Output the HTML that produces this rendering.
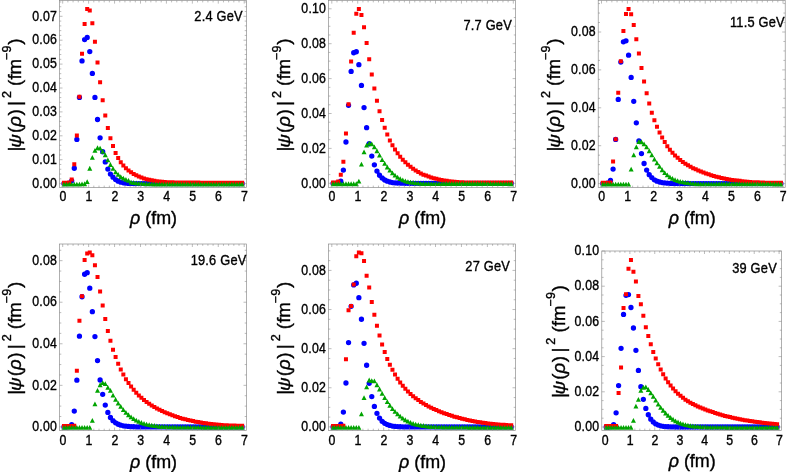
<!DOCTYPE html>
<html><head><meta charset="utf-8"><title>wavefunctions</title>
<style>
html,body{margin:0;padding:0;background:#fff;}
body{width:789px;height:472px;overflow:hidden;}
svg{display:block;will-change:transform;}
text{font-family:"Liberation Sans",sans-serif;fill:#000;stroke:#000;stroke-width:.38px;}
.t{font-size:14px;letter-spacing:.25px;}
.a{font-size:18.7px;}
.i{font-style:italic;}
.s{font-size:12.5px;}
</style></head><body>
<svg width="789" height="472" viewBox="0 0 789 472">
<rect width="789" height="472" fill="#fff"/>
<g><path d="M63.94 183.59h.01M66.53 183.59h.01M69.11 183.19h.01M71.69 180.8h.01M74.28 168.26h.01M76.86 139.39h.01M79.44 97.38h.01M82.02 60.92h.01M84.61 39.62h.01M87.19 37.43h.01M89.77 51.56h.01M92.35 73.46h.01M94.94 97.38h.01M97.52 119.48h.01M100.1 137.8h.01M102.68 151.73h.01M105.27 161.89h.01M107.85 169.05h.01M110.43 174.03h.01M113.01 177.22h.01M115.6 179.61h.01M118.18 181.2h.01M120.76 182.19h.01M123.35 182.79h.01M125.93 183.17h.01M128.51 183.39h.01M131.09 183.47h.01M133.68 183.53h.01M136.26 183.57h.01M138.84 183.59h.01M141.42 183.59h.01M144.01 183.59h.01M146.59 183.59h.01M149.17 183.59h.01M151.75 183.59h.01M154.34 183.59h.01M156.92 183.59h.01M159.5 183.59h.01M162.08 183.59h.01M164.67 183.59h.01M167.25 183.59h.01M169.83 183.6h.01M172.42 183.6h.01M175 183.6h.01M177.58 183.6h.01M180.16 183.6h.01M182.75 183.6h.01M185.33 183.6h.01M187.91 183.6h.01M190.49 183.6h.01M193.08 183.6h.01M195.66 183.6h.01M198.24 183.6h.01M200.82 183.6h.01M203.41 183.6h.01M205.99 183.6h.01M208.57 183.6h.01M211.15 183.6h.01M213.74 183.6h.01M216.32 183.6h.01M218.9 183.6h.01M221.48 183.6h.01M224.07 183.6h.01M226.65 183.6h.01M229.23 183.6h.01M231.82 183.6h.01M234.4 183.6h.01M236.98 183.6h.01M239.56 183.6h.01M242.15 183.6h.01" stroke="#0000ff" stroke-width="5.3" stroke-linecap="round" fill="none"/>
<path d="M61.94 180.7h4v4h-4zM64.53 180.7h4v4h-4zM67.11 180.59h4v4h-4zM69.69 177.61h4v4h-4zM72.28 162.28h4v4h-4zM74.86 133.41h4v4h-4zM77.44 94.79h4v4h-4zM80.02 51.75h4v4h-4zM82.61 21.89h4v4h-4zM85.19 6.96h4v4h-4zM87.77 8.55h4v4h-4zM90.35 21.29h4v4h-4zM92.94 39.81h4v4h-4zM95.52 60.51h4v4h-4zM98.1 80.22h4v4h-4zM100.68 98.37h4v4h-4zM103.27 113.5h4v4h-4zM105.85 126.04h4v4h-4zM108.43 136.2h4v4h-4zM111.01 144.1h4v4h-4zM113.6 150.91h4v4h-4zM116.18 156.09h4v4h-4zM118.76 160.15h4v4h-4zM121.35 163.41h4v4h-4zM123.93 166.15h4v4h-4zM126.51 168.49h4v4h-4zM129.09 170.32h4v4h-4zM131.68 172.04h4v4h-4zM134.26 173.37h4v4h-4zM136.84 174.59h4v4h-4zM139.42 175.5h4v4h-4zM142.01 176.41h4v4h-4zM144.59 177.23h4v4h-4zM147.17 177.84h4v4h-4zM149.75 178.35h4v4h-4zM152.34 178.75h4v4h-4zM154.92 179.16h4v4h-4zM157.5 179.46h4v4h-4zM160.08 179.74h4v4h-4zM162.67 179.97h4v4h-4zM165.25 180.15h4v4h-4zM167.83 180.28h4v4h-4zM170.42 180.36h4v4h-4zM173 180.43h4v4h-4zM175.58 180.48h4v4h-4zM178.16 180.51h4v4h-4zM180.75 180.54h4v4h-4zM183.33 180.57h4v4h-4zM185.91 180.58h4v4h-4zM188.49 180.59h4v4h-4zM191.08 180.6h4v4h-4zM193.66 180.61h4v4h-4zM196.24 180.62h4v4h-4zM198.82 180.63h4v4h-4zM201.41 180.64h4v4h-4zM203.99 180.65h4v4h-4zM206.57 180.65h4v4h-4zM209.15 180.66h4v4h-4zM211.74 180.67h4v4h-4zM214.32 180.67h4v4h-4zM216.9 180.68h4v4h-4zM219.48 180.68h4v4h-4zM222.07 180.69h4v4h-4zM224.65 180.69h4v4h-4zM227.23 180.69h4v4h-4zM229.82 180.7h4v4h-4zM232.4 180.7h4v4h-4zM234.98 180.7h4v4h-4zM237.56 180.7h4v4h-4zM240.15 180.7h4v4h-4z" fill="#ff0000"/>
<path d="M63.94 181.63l2.5 4.8h-5zM66.53 181.63l2.5 4.8h-5zM69.11 181.63l2.5 4.8h-5zM71.69 181.63l2.5 4.8h-5zM74.28 181.63l2.5 4.8h-5zM76.86 181.63l2.5 4.8h-5zM79.44 181.63l2.5 4.8h-5zM82.02 181.56l2.5 4.8h-5zM84.61 181.35l2.5 4.8h-5zM87.19 179.25l2.5 4.8h-5zM89.77 165.86l2.5 4.8h-5zM92.35 154.91l2.5 4.8h-5zM94.94 147.94l2.5 4.8h-5zM97.52 145.35l2.5 4.8h-5zM100.1 145.75l2.5 4.8h-5zM102.68 148.94l2.5 4.8h-5zM105.27 152.53l2.5 4.8h-5zM107.85 157.5l2.5 4.8h-5zM110.43 162.08l2.5 4.8h-5zM113.01 166.07l2.5 4.8h-5zM115.6 169.45l2.5 4.8h-5zM118.18 172.04l2.5 4.8h-5zM120.76 174.23l2.5 4.8h-5zM123.35 175.82l2.5 4.8h-5zM125.93 177.02l2.5 4.8h-5zM128.51 178.03l2.5 4.8h-5zM131.09 179.68l2.5 4.8h-5zM133.68 180.12l2.5 4.8h-5zM136.26 180.51l2.5 4.8h-5zM138.84 180.83l2.5 4.8h-5zM141.42 181.05l2.5 4.8h-5zM144.01 181.22l2.5 4.8h-5zM146.59 181.35l2.5 4.8h-5zM149.17 181.45l2.5 4.8h-5zM151.75 181.54l2.5 4.8h-5zM154.34 181.61l2.5 4.8h-5zM156.92 181.63l2.5 4.8h-5zM159.5 181.63l2.5 4.8h-5zM162.08 181.63l2.5 4.8h-5zM164.67 181.64l2.5 4.8h-5zM167.25 181.64l2.5 4.8h-5zM169.83 181.64l2.5 4.8h-5zM172.42 181.64l2.5 4.8h-5zM175 181.64l2.5 4.8h-5zM177.58 181.64l2.5 4.8h-5zM180.16 181.64l2.5 4.8h-5zM182.75 181.64l2.5 4.8h-5zM185.33 181.64l2.5 4.8h-5zM187.91 181.64l2.5 4.8h-5zM190.49 181.65l2.5 4.8h-5zM193.08 181.65l2.5 4.8h-5zM195.66 181.65l2.5 4.8h-5zM198.24 181.65l2.5 4.8h-5zM200.82 181.65l2.5 4.8h-5zM203.41 181.65l2.5 4.8h-5zM205.99 181.65l2.5 4.8h-5zM208.57 181.65l2.5 4.8h-5zM211.15 181.65l2.5 4.8h-5zM213.74 181.65l2.5 4.8h-5zM216.32 181.65l2.5 4.8h-5zM218.9 181.65l2.5 4.8h-5zM221.48 181.65l2.5 4.8h-5zM224.07 181.65l2.5 4.8h-5zM226.65 181.65l2.5 4.8h-5zM229.23 181.65l2.5 4.8h-5zM231.82 181.65l2.5 4.8h-5zM234.4 181.65l2.5 4.8h-5zM236.98 181.65l2.5 4.8h-5zM239.56 181.65l2.5 4.8h-5zM242.15 181.65l2.5 4.8h-5z" fill="#00a400"/>
<rect x="59.5" y="0.6" width="187" height="186.8" fill="none" stroke="#858585" stroke-width="0.65"/>
<path d="M62.7 187.4v-3M62.7 0.6v3M67.89 187.4v-1.8M67.89 0.6v1.8M73.07 187.4v-1.8M73.07 0.6v1.8M78.26 187.4v-1.8M78.26 0.6v1.8M83.44 187.4v-1.8M83.44 0.6v1.8M88.63 187.4v-3M88.63 0.6v3M93.82 187.4v-1.8M93.82 0.6v1.8M99 187.4v-1.8M99 0.6v1.8M104.19 187.4v-1.8M104.19 0.6v1.8M109.37 187.4v-1.8M109.37 0.6v1.8M114.56 187.4v-3M114.56 0.6v3M119.75 187.4v-1.8M119.75 0.6v1.8M124.93 187.4v-1.8M124.93 0.6v1.8M130.12 187.4v-1.8M130.12 0.6v1.8M135.3 187.4v-1.8M135.3 0.6v1.8M140.49 187.4v-3M140.49 0.6v3M145.68 187.4v-1.8M145.68 0.6v1.8M150.86 187.4v-1.8M150.86 0.6v1.8M156.05 187.4v-1.8M156.05 0.6v1.8M161.23 187.4v-1.8M161.23 0.6v1.8M166.42 187.4v-3M166.42 0.6v3M171.61 187.4v-1.8M171.61 0.6v1.8M176.79 187.4v-1.8M176.79 0.6v1.8M181.98 187.4v-1.8M181.98 0.6v1.8M187.16 187.4v-1.8M187.16 0.6v1.8M192.35 187.4v-3M192.35 0.6v3M197.54 187.4v-1.8M197.54 0.6v1.8M202.72 187.4v-1.8M202.72 0.6v1.8M207.91 187.4v-1.8M207.91 0.6v1.8M213.09 187.4v-1.8M213.09 0.6v1.8M218.28 187.4v-3M218.28 0.6v3M223.47 187.4v-1.8M223.47 0.6v1.8M228.65 187.4v-1.8M228.65 0.6v1.8M233.84 187.4v-1.8M233.84 0.6v1.8M239.02 187.4v-1.8M239.02 0.6v1.8M244.21 187.4v-3M244.21 0.6v3M59.5 183.6h3M246.5 183.6h-3M59.5 178.82h1.8M246.5 178.82h-1.8M59.5 174.04h1.8M246.5 174.04h-1.8M59.5 169.26h1.8M246.5 169.26h-1.8M59.5 164.48h1.8M246.5 164.48h-1.8M59.5 159.7h3M246.5 159.7h-3M59.5 154.92h1.8M246.5 154.92h-1.8M59.5 150.14h1.8M246.5 150.14h-1.8M59.5 145.36h1.8M246.5 145.36h-1.8M59.5 140.58h1.8M246.5 140.58h-1.8M59.5 135.8h3M246.5 135.8h-3M59.5 131.02h1.8M246.5 131.02h-1.8M59.5 126.24h1.8M246.5 126.24h-1.8M59.5 121.46h1.8M246.5 121.46h-1.8M59.5 116.68h1.8M246.5 116.68h-1.8M59.5 111.9h3M246.5 111.9h-3M59.5 107.12h1.8M246.5 107.12h-1.8M59.5 102.34h1.8M246.5 102.34h-1.8M59.5 97.56h1.8M246.5 97.56h-1.8M59.5 92.78h1.8M246.5 92.78h-1.8M59.5 88h3M246.5 88h-3M59.5 83.22h1.8M246.5 83.22h-1.8M59.5 78.44h1.8M246.5 78.44h-1.8M59.5 73.66h1.8M246.5 73.66h-1.8M59.5 68.88h1.8M246.5 68.88h-1.8M59.5 64.1h3M246.5 64.1h-3M59.5 59.32h1.8M246.5 59.32h-1.8M59.5 54.54h1.8M246.5 54.54h-1.8M59.5 49.76h1.8M246.5 49.76h-1.8M59.5 44.98h1.8M246.5 44.98h-1.8M59.5 40.2h3M246.5 40.2h-3M59.5 35.42h1.8M246.5 35.42h-1.8M59.5 30.64h1.8M246.5 30.64h-1.8M59.5 25.86h1.8M246.5 25.86h-1.8M59.5 21.08h1.8M246.5 21.08h-1.8M59.5 16.3h3M246.5 16.3h-3M59.5 11.52h1.8M246.5 11.52h-1.8M59.5 6.74h1.8M246.5 6.74h-1.8M59.5 1.96h1.8M246.5 1.96h-1.8" stroke="#858585" stroke-width="0.55" fill="none"/>
<text transform="translate(63.05 201) scale(0.88 1)" text-anchor="middle" class="t">0</text>
<text transform="translate(88.98 201) scale(0.88 1)" text-anchor="middle" class="t">1</text>
<text transform="translate(114.91 201) scale(0.88 1)" text-anchor="middle" class="t">2</text>
<text transform="translate(140.84 201) scale(0.88 1)" text-anchor="middle" class="t">3</text>
<text transform="translate(166.77 201) scale(0.88 1)" text-anchor="middle" class="t">4</text>
<text transform="translate(192.7 201) scale(0.88 1)" text-anchor="middle" class="t">5</text>
<text transform="translate(218.63 201) scale(0.88 1)" text-anchor="middle" class="t">6</text>
<text transform="translate(244.56 201) scale(0.88 1)" text-anchor="middle" class="t">7</text>
<text transform="translate(57.1 187.85) scale(0.88 1)" text-anchor="end" class="t">0.00</text>
<text transform="translate(57.1 163.95) scale(0.88 1)" text-anchor="end" class="t">0.01</text>
<text transform="translate(57.1 140.05) scale(0.88 1)" text-anchor="end" class="t">0.02</text>
<text transform="translate(57.1 116.15) scale(0.88 1)" text-anchor="end" class="t">0.03</text>
<text transform="translate(57.1 92.25) scale(0.88 1)" text-anchor="end" class="t">0.04</text>
<text transform="translate(57.1 68.35) scale(0.88 1)" text-anchor="end" class="t">0.05</text>
<text transform="translate(57.1 44.45) scale(0.88 1)" text-anchor="end" class="t">0.06</text>
<text transform="translate(57.1 20.55) scale(0.88 1)" text-anchor="end" class="t">0.07</text>
<text transform="translate(218.58 20.76) scale(0.915 1)" text-anchor="middle" class="t">2.4 GeV</text>
<text transform="translate(153.5 224.4) scale(.96 1)" text-anchor="middle" class="a"><tspan class="i">ρ</tspan> (fm)</text>
<g transform="translate(21.3 94) rotate(-90)" text-anchor="middle"><text x="-55" y="0" class="a">|</text><text transform="translate(-47 0) scale(1 .87)" class="a i">ψ</text><text x="-35.9" y="0" class="a">(</text><text x="-27.4" y="0" class="a i">ρ</text><text x="-18.4" y="0" class="a">)</text><text x="-9.5" y="0" class="a">|</text><text x="-0.6" y="-9.9" class="s">2</text><text x="11.2" y="0" class="a">(</text><text x="17" y="0" class="a">f</text><text x="27.4" y="0" class="a">m</text><text x="37.5" y="-9.9" class="s">−</text><text x="45.1" y="-9.9" class="s">9</text><text x="52.3" y="0" class="a">)</text></g></g>
<g><path d="M333.04 183.3h.01M335.63 183.3h.01M338.21 182.99h.01M340.79 181.2h.01M343.38 170.05h.01M345.96 141.98h.01M348.54 105.35h.01M351.12 71.47h.01M353.71 52.76h.01M356.29 51.76h.01M358.87 64.7h.01M361.45 85.41h.01M364.04 107.54h.01M366.62 127.65h.01M369.2 143.77h.01M371.78 156.11h.01M374.37 164.87h.01M376.95 171.05h.01M379.53 175.23h.01M382.11 178.01h.01M384.7 180h.01M387.28 181.2h.01M389.86 182h.01M392.45 182.59h.01M395.03 182.84h.01M397.61 182.99h.01M400.19 183.1h.01M402.78 183.2h.01M405.36 183.26h.01M407.94 183.29h.01M410.52 183.29h.01M413.11 183.29h.01M415.69 183.29h.01M418.27 183.29h.01M420.85 183.29h.01M423.44 183.29h.01M426.02 183.29h.01M428.6 183.29h.01M431.18 183.29h.01M433.77 183.3h.01M436.35 183.3h.01M438.93 183.3h.01M441.52 183.3h.01M444.1 183.3h.01M446.68 183.3h.01M449.26 183.3h.01M451.85 183.3h.01M454.43 183.3h.01M457.01 183.3h.01M459.59 183.3h.01M462.18 183.3h.01M464.76 183.3h.01M467.34 183.3h.01M469.92 183.3h.01M472.51 183.3h.01M475.09 183.3h.01M477.67 183.3h.01M480.25 183.3h.01M482.84 183.3h.01M485.42 183.3h.01M488 183.3h.01M490.58 183.3h.01M493.17 183.3h.01M495.75 183.3h.01M498.33 183.3h.01M500.92 183.3h.01M503.5 183.3h.01M506.08 183.3h.01M508.66 183.3h.01M511.25 183.3h.01" stroke="#0000ff" stroke-width="5.3" stroke-linecap="round" fill="none"/>
<path d="M331.04 180.4h4v4h-4zM333.63 180.4h4v4h-4zM336.21 179.6h4v4h-4zM338.79 172.83h4v4h-4zM341.38 159.69h4v4h-4zM343.96 131.42h4v4h-4zM346.54 102.35h4v4h-4zM349.12 59.52h4v4h-4zM351.71 30.85h4v4h-4zM354.29 11.74h4v4h-4zM356.87 6.96h4v4h-4zM359.45 12.93h4v4h-4zM362.04 25.27h4v4h-4zM364.62 41h4v4h-4zM367.2 57.13h4v4h-4zM369.78 72.46h4v4h-4zM372.37 86.39h4v4h-4zM374.95 98.77h4v4h-4zM377.53 109.32h4v4h-4zM380.11 118.08h4v4h-4zM382.7 125.84h4v4h-4zM385.28 132.61h4v4h-4zM387.86 138.39h4v4h-4zM390.45 143.16h4v4h-4zM393.03 147.54h4v4h-4zM395.61 151.33h4v4h-4zM398.19 154.71h4v4h-4zM400.78 157.7h4v4h-4zM403.36 160.29h4v4h-4zM405.94 162.67h4v4h-4zM408.52 164.86h4v4h-4zM411.11 166.86h4v4h-4zM413.69 168.45h4v4h-4zM416.27 170.04h4v4h-4zM418.85 171.43h4v4h-4zM421.44 172.63h4v4h-4zM424.02 173.62h4v4h-4zM426.6 174.62h4v4h-4zM429.18 175.42h4v4h-4zM431.77 176.21h4v4h-4zM434.35 176.81h4v4h-4zM436.93 177.41h4v4h-4zM439.52 178h4v4h-4zM442.1 178.4h4v4h-4zM444.68 178.8h4v4h-4zM447.26 179.2h4v4h-4zM449.85 179.6h4v4h-4zM452.43 179.82h4v4h-4zM455.01 180.01h4v4h-4zM457.59 180.16h4v4h-4zM460.18 180.29h4v4h-4zM462.76 180.4h4v4h-4zM465.34 180.4h4v4h-4zM467.92 180.4h4v4h-4zM470.51 180.4h4v4h-4zM473.09 180.4h4v4h-4zM475.67 180.4h4v4h-4zM478.25 180.4h4v4h-4zM480.84 180.4h4v4h-4zM483.42 180.4h4v4h-4zM486 180.4h4v4h-4zM488.58 180.4h4v4h-4zM491.17 180.4h4v4h-4zM493.75 180.4h4v4h-4zM496.33 180.4h4v4h-4zM498.92 180.4h4v4h-4zM501.5 180.4h4v4h-4zM504.08 180.4h4v4h-4zM506.66 180.4h4v4h-4zM509.25 180.4h4v4h-4z" fill="#ff0000"/>
<path d="M333.04 181.35l2.5 4.8h-5zM335.63 181.35l2.5 4.8h-5zM338.21 181.35l2.5 4.8h-5zM340.79 181.35l2.5 4.8h-5zM343.38 181.35l2.5 4.8h-5zM345.96 181.35l2.5 4.8h-5zM348.54 181.35l2.5 4.8h-5zM351.12 181.35l2.5 4.8h-5zM353.71 181.35l2.5 4.8h-5zM356.29 181.35l2.5 4.8h-5zM358.87 178.64l2.5 4.8h-5zM361.45 161.65l2.5 4.8h-5zM364.04 149.42l2.5 4.8h-5zM366.62 142.66l2.5 4.8h-5zM369.2 140.64l2.5 4.8h-5zM371.78 141.47l2.5 4.8h-5zM374.37 144.44l2.5 4.8h-5zM376.95 148.35l2.5 4.8h-5zM379.53 152.75l2.5 4.8h-5zM382.11 157.14l2.5 4.8h-5zM384.7 161.05l2.5 4.8h-5zM387.28 164.61l2.5 4.8h-5zM389.86 167.82l2.5 4.8h-5zM392.45 170.55l2.5 4.8h-5zM395.03 172.8l2.5 4.8h-5zM397.61 174.7l2.5 4.8h-5zM400.19 176.25l2.5 4.8h-5zM402.78 177.44l2.5 4.8h-5zM405.36 178.4l2.5 4.8h-5zM407.94 179.13l2.5 4.8h-5zM410.52 179.64l2.5 4.8h-5zM413.11 180.04l2.5 4.8h-5zM415.69 180.47l2.5 4.8h-5zM418.27 180.75l2.5 4.8h-5zM420.85 180.95l2.5 4.8h-5zM423.44 181.11l2.5 4.8h-5zM426.02 181.25l2.5 4.8h-5zM428.6 181.31l2.5 4.8h-5zM431.18 181.3l2.5 4.8h-5zM433.77 181.27l2.5 4.8h-5zM436.35 181.23l2.5 4.8h-5zM438.93 181.18l2.5 4.8h-5zM441.52 181.14l2.5 4.8h-5zM444.1 181.1l2.5 4.8h-5zM446.68 181.08l2.5 4.8h-5zM449.26 181.08l2.5 4.8h-5zM451.85 181.08l2.5 4.8h-5zM454.43 181.08l2.5 4.8h-5zM457.01 181.08l2.5 4.8h-5zM459.59 181.08l2.5 4.8h-5zM462.18 181.08l2.5 4.8h-5zM464.76 181.08l2.5 4.8h-5zM467.34 181.08l2.5 4.8h-5zM469.92 181.09l2.5 4.8h-5zM472.51 181.09l2.5 4.8h-5zM475.09 181.1l2.5 4.8h-5zM477.67 181.1l2.5 4.8h-5zM480.25 181.11l2.5 4.8h-5zM482.84 181.12l2.5 4.8h-5zM485.42 181.13l2.5 4.8h-5zM488 181.14l2.5 4.8h-5zM490.58 181.16l2.5 4.8h-5zM493.17 181.17l2.5 4.8h-5zM495.75 181.19l2.5 4.8h-5zM498.33 181.21l2.5 4.8h-5zM500.92 181.23l2.5 4.8h-5zM503.5 181.26l2.5 4.8h-5zM506.08 181.29l2.5 4.8h-5zM508.66 181.32l2.5 4.8h-5zM511.25 181.35l2.5 4.8h-5z" fill="#00a400"/>
<rect x="328.6" y="0.6" width="187" height="186.8" fill="none" stroke="#858585" stroke-width="0.65"/>
<path d="M331.8 187.4v-3M331.8 0.6v3M336.99 187.4v-1.8M336.99 0.6v1.8M342.17 187.4v-1.8M342.17 0.6v1.8M347.36 187.4v-1.8M347.36 0.6v1.8M352.54 187.4v-1.8M352.54 0.6v1.8M357.73 187.4v-3M357.73 0.6v3M362.92 187.4v-1.8M362.92 0.6v1.8M368.1 187.4v-1.8M368.1 0.6v1.8M373.29 187.4v-1.8M373.29 0.6v1.8M378.47 187.4v-1.8M378.47 0.6v1.8M383.66 187.4v-3M383.66 0.6v3M388.85 187.4v-1.8M388.85 0.6v1.8M394.03 187.4v-1.8M394.03 0.6v1.8M399.22 187.4v-1.8M399.22 0.6v1.8M404.4 187.4v-1.8M404.4 0.6v1.8M409.59 187.4v-3M409.59 0.6v3M414.78 187.4v-1.8M414.78 0.6v1.8M419.96 187.4v-1.8M419.96 0.6v1.8M425.15 187.4v-1.8M425.15 0.6v1.8M430.33 187.4v-1.8M430.33 0.6v1.8M435.52 187.4v-3M435.52 0.6v3M440.71 187.4v-1.8M440.71 0.6v1.8M445.89 187.4v-1.8M445.89 0.6v1.8M451.08 187.4v-1.8M451.08 0.6v1.8M456.26 187.4v-1.8M456.26 0.6v1.8M461.45 187.4v-3M461.45 0.6v3M466.64 187.4v-1.8M466.64 0.6v1.8M471.82 187.4v-1.8M471.82 0.6v1.8M477.01 187.4v-1.8M477.01 0.6v1.8M482.19 187.4v-1.8M482.19 0.6v1.8M487.38 187.4v-3M487.38 0.6v3M492.57 187.4v-1.8M492.57 0.6v1.8M497.75 187.4v-1.8M497.75 0.6v1.8M502.94 187.4v-1.8M502.94 0.6v1.8M508.12 187.4v-1.8M508.12 0.6v1.8M513.31 187.4v-3M513.31 0.6v3M328.6 183.3h3M515.6 183.3h-3M328.6 174.58h1.8M515.6 174.58h-1.8M328.6 165.85h1.8M515.6 165.85h-1.8M328.6 157.12h1.8M515.6 157.12h-1.8M328.6 148.4h3M515.6 148.4h-3M328.6 139.68h1.8M515.6 139.68h-1.8M328.6 130.95h1.8M515.6 130.95h-1.8M328.6 122.23h1.8M515.6 122.23h-1.8M328.6 113.5h3M515.6 113.5h-3M328.6 104.78h1.8M515.6 104.78h-1.8M328.6 96.05h1.8M515.6 96.05h-1.8M328.6 87.33h1.8M515.6 87.33h-1.8M328.6 78.6h3M515.6 78.6h-3M328.6 69.88h1.8M515.6 69.88h-1.8M328.6 61.15h1.8M515.6 61.15h-1.8M328.6 52.43h1.8M515.6 52.43h-1.8M328.6 43.7h3M515.6 43.7h-3M328.6 34.98h1.8M515.6 34.98h-1.8M328.6 26.25h1.8M515.6 26.25h-1.8M328.6 17.53h1.8M515.6 17.53h-1.8M328.6 8.8h3M515.6 8.8h-3" stroke="#858585" stroke-width="0.55" fill="none"/>
<text transform="translate(332.15 201) scale(0.88 1)" text-anchor="middle" class="t">0</text>
<text transform="translate(358.08 201) scale(0.88 1)" text-anchor="middle" class="t">1</text>
<text transform="translate(384.01 201) scale(0.88 1)" text-anchor="middle" class="t">2</text>
<text transform="translate(409.94 201) scale(0.88 1)" text-anchor="middle" class="t">3</text>
<text transform="translate(435.87 201) scale(0.88 1)" text-anchor="middle" class="t">4</text>
<text transform="translate(461.8 201) scale(0.88 1)" text-anchor="middle" class="t">5</text>
<text transform="translate(487.73 201) scale(0.88 1)" text-anchor="middle" class="t">6</text>
<text transform="translate(513.66 201) scale(0.88 1)" text-anchor="middle" class="t">7</text>
<text transform="translate(326.2 187.55) scale(0.88 1)" text-anchor="end" class="t">0.00</text>
<text transform="translate(326.2 152.65) scale(0.88 1)" text-anchor="end" class="t">0.02</text>
<text transform="translate(326.2 117.75) scale(0.88 1)" text-anchor="end" class="t">0.04</text>
<text transform="translate(326.2 82.85) scale(0.88 1)" text-anchor="end" class="t">0.06</text>
<text transform="translate(326.2 47.95) scale(0.88 1)" text-anchor="end" class="t">0.08</text>
<text transform="translate(326.2 13.05) scale(0.88 1)" text-anchor="end" class="t">0.10</text>
<text transform="translate(487.68 29.9) scale(0.915 1)" text-anchor="middle" class="t">7.7 GeV</text>
<text transform="translate(422.6 224.4) scale(.96 1)" text-anchor="middle" class="a"><tspan class="i">ρ</tspan> (fm)</text>
<g transform="translate(290.4 94) rotate(-90)" text-anchor="middle"><text x="-55" y="0" class="a">|</text><text transform="translate(-47 0) scale(1 .87)" class="a i">ψ</text><text x="-35.9" y="0" class="a">(</text><text x="-27.4" y="0" class="a i">ρ</text><text x="-18.4" y="0" class="a">)</text><text x="-9.5" y="0" class="a">|</text><text x="-0.6" y="-9.9" class="s">2</text><text x="11.2" y="0" class="a">(</text><text x="17" y="0" class="a">f</text><text x="27.4" y="0" class="a">m</text><text x="37.5" y="-9.9" class="s">−</text><text x="45.1" y="-9.9" class="s">9</text><text x="52.3" y="0" class="a">)</text></g></g>
<g><path d="M602.74 183.59h.01M605.33 183.59h.01M607.91 182.99h.01M610.49 180.4h.01M613.08 169.05h.01M615.66 139.39h.01M618.24 99.38h.01M620.82 62.11h.01M623.41 41.81h.01M625.99 40.81h.01M628.57 55.15h.01M631.15 77.44h.01M633.74 101.37h.01M636.32 122.87h.01M638.9 140.98h.01M641.48 153.53h.01M644.07 163.48h.01M646.65 170.05h.01M649.23 174.63h.01M651.81 177.62h.01M654.4 179.81h.01M656.98 181.2h.01M659.56 182h.01M662.15 182.59h.01M664.73 182.96h.01M667.31 183.19h.01M669.89 183.33h.01M672.48 183.44h.01M675.06 183.49h.01M677.64 183.5h.01M680.22 183.5h.01M682.81 183.51h.01M685.39 183.52h.01M687.97 183.52h.01M690.55 183.53h.01M693.14 183.53h.01M695.72 183.54h.01M698.3 183.54h.01M700.88 183.55h.01M703.47 183.55h.01M706.05 183.56h.01M708.63 183.56h.01M711.22 183.56h.01M713.8 183.57h.01M716.38 183.57h.01M718.96 183.57h.01M721.55 183.58h.01M724.13 183.58h.01M726.71 183.58h.01M729.29 183.58h.01M731.88 183.58h.01M734.46 183.59h.01M737.04 183.59h.01M739.62 183.59h.01M742.21 183.59h.01M744.79 183.59h.01M747.37 183.59h.01M749.95 183.6h.01M752.54 183.6h.01M755.12 183.6h.01M757.7 183.6h.01M760.28 183.6h.01M762.87 183.6h.01M765.45 183.6h.01M768.03 183.6h.01M770.62 183.6h.01M773.2 183.6h.01M775.78 183.6h.01M778.36 183.6h.01M780.95 183.6h.01" stroke="#0000ff" stroke-width="5.3" stroke-linecap="round" fill="none"/>
<path d="M600.74 180.7h4v4h-4zM603.33 180.7h4v4h-4zM605.91 180.7h4v4h-4zM608.49 180.59h4v4h-4zM611.08 159.49h4v4h-4zM613.66 137.19h4v4h-4zM616.24 90.77h4v4h-4zM618.82 59.32h4v4h-4zM621.41 29.06h4v4h-4zM623.99 11.94h4v4h-4zM626.57 6.96h4v4h-4zM629.15 12.33h4v4h-4zM631.74 22.89h4v4h-4zM634.32 37.22h4v4h-4zM636.9 51.55h4v4h-4zM639.48 66.09h4v4h-4zM642.07 79.62h4v4h-4zM644.65 91.17h4v4h-4zM647.23 101.56h4v4h-4zM649.81 110.71h4v4h-4zM652.4 118.28h4v4h-4zM654.98 124.85h4v4h-4zM657.56 130.62h4v4h-4zM660.15 135.6h4v4h-4zM662.73 139.98h4v4h-4zM665.31 144.16h4v4h-4zM667.89 147.74h4v4h-4zM670.48 150.78h4v4h-4zM673.06 153.44h4v4h-4zM675.64 155.82h4v4h-4zM678.22 157.98h4v4h-4zM680.81 159.92h4v4h-4zM683.39 161.69h4v4h-4zM685.97 163.29h4v4h-4zM688.55 164.77h4v4h-4zM691.14 166.13h4v4h-4zM693.72 167.37h4v4h-4zM696.3 168.51h4v4h-4zM698.88 169.56h4v4h-4zM701.47 170.55h4v4h-4zM704.05 171.49h4v4h-4zM706.63 172.37h4v4h-4zM709.22 173.19h4v4h-4zM711.8 173.95h4v4h-4zM714.38 174.66h4v4h-4zM716.96 175.31h4v4h-4zM719.55 175.93h4v4h-4zM722.13 176.51h4v4h-4zM724.71 177.03h4v4h-4zM727.29 177.48h4v4h-4zM729.88 177.88h4v4h-4zM732.46 178.24h4v4h-4zM735.04 178.57h4v4h-4zM737.62 178.87h4v4h-4zM740.21 179.18h4v4h-4zM742.79 179.47h4v4h-4zM745.37 179.74h4v4h-4zM747.95 179.97h4v4h-4zM750.54 180.13h4v4h-4zM753.12 180.26h4v4h-4zM755.7 180.37h4v4h-4zM758.28 180.46h4v4h-4zM760.87 180.55h4v4h-4zM763.45 180.64h4v4h-4zM766.03 180.7h4v4h-4zM768.62 180.7h4v4h-4zM771.2 180.7h4v4h-4zM773.78 180.7h4v4h-4zM776.36 180.7h4v4h-4zM778.95 180.7h4v4h-4z" fill="#ff0000"/>
<path d="M602.74 181.65l2.5 4.8h-5zM605.33 181.65l2.5 4.8h-5zM607.91 181.65l2.5 4.8h-5zM610.49 181.65l2.5 4.8h-5zM613.08 181.65l2.5 4.8h-5zM615.66 181.65l2.5 4.8h-5zM618.24 181.65l2.5 4.8h-5zM620.82 181.65l2.5 4.8h-5zM623.41 181.65l2.5 4.8h-5zM625.99 181.65l2.5 4.8h-5zM628.57 181.65l2.5 4.8h-5zM631.15 166.75l2.5 4.8h-5zM633.74 152.51l2.5 4.8h-5zM636.32 144.44l2.5 4.8h-5zM638.9 139.1l2.5 4.8h-5zM641.48 139.33l2.5 4.8h-5zM644.07 141.47l2.5 4.8h-5zM646.65 144.44l2.5 4.8h-5zM649.23 148.35l2.5 4.8h-5zM651.81 152.39l2.5 4.8h-5zM654.4 156.66l2.5 4.8h-5zM656.98 160.46l2.5 4.8h-5zM659.56 164.02l2.5 4.8h-5zM662.15 167.34l2.5 4.8h-5zM664.73 170.19l2.5 4.8h-5zM667.31 172.57l2.5 4.8h-5zM669.89 174.47l2.5 4.8h-5zM672.48 176.01l2.5 4.8h-5zM675.06 177.2l2.5 4.8h-5zM677.64 178.15l2.5 4.8h-5zM680.22 178.88l2.5 4.8h-5zM682.81 179.5l2.5 4.8h-5zM685.39 180.01l2.5 4.8h-5zM687.97 180.42l2.5 4.8h-5zM690.55 180.7l2.5 4.8h-5zM693.14 180.95l2.5 4.8h-5zM695.72 181.17l2.5 4.8h-5zM698.3 181.39l2.5 4.8h-5zM700.88 181.51l2.5 4.8h-5zM703.47 181.5l2.5 4.8h-5zM706.05 181.48l2.5 4.8h-5zM708.63 181.45l2.5 4.8h-5zM711.22 181.41l2.5 4.8h-5zM713.8 181.38l2.5 4.8h-5zM716.38 181.36l2.5 4.8h-5zM718.96 181.36l2.5 4.8h-5zM721.55 181.36l2.5 4.8h-5zM724.13 181.36l2.5 4.8h-5zM726.71 181.36l2.5 4.8h-5zM729.29 181.36l2.5 4.8h-5zM731.88 181.36l2.5 4.8h-5zM734.46 181.37l2.5 4.8h-5zM737.04 181.37l2.5 4.8h-5zM739.62 181.37l2.5 4.8h-5zM742.21 181.38l2.5 4.8h-5zM744.79 181.38l2.5 4.8h-5zM747.37 181.39l2.5 4.8h-5zM749.95 181.4l2.5 4.8h-5zM752.54 181.41l2.5 4.8h-5zM755.12 181.42l2.5 4.8h-5zM757.7 181.43l2.5 4.8h-5zM760.28 181.45l2.5 4.8h-5zM762.87 181.46l2.5 4.8h-5zM765.45 181.48l2.5 4.8h-5zM768.03 181.5l2.5 4.8h-5zM770.62 181.53l2.5 4.8h-5zM773.2 181.55l2.5 4.8h-5zM775.78 181.58l2.5 4.8h-5zM778.36 181.61l2.5 4.8h-5zM780.95 181.65l2.5 4.8h-5z" fill="#00a400"/>
<rect x="598.2" y="0.6" width="187" height="186.8" fill="none" stroke="#858585" stroke-width="0.65"/>
<path d="M601.5 187.4v-3M601.5 0.6v3M606.69 187.4v-1.8M606.69 0.6v1.8M611.87 187.4v-1.8M611.87 0.6v1.8M617.06 187.4v-1.8M617.06 0.6v1.8M622.24 187.4v-1.8M622.24 0.6v1.8M627.43 187.4v-3M627.43 0.6v3M632.62 187.4v-1.8M632.62 0.6v1.8M637.8 187.4v-1.8M637.8 0.6v1.8M642.99 187.4v-1.8M642.99 0.6v1.8M648.17 187.4v-1.8M648.17 0.6v1.8M653.36 187.4v-3M653.36 0.6v3M658.55 187.4v-1.8M658.55 0.6v1.8M663.73 187.4v-1.8M663.73 0.6v1.8M668.92 187.4v-1.8M668.92 0.6v1.8M674.1 187.4v-1.8M674.1 0.6v1.8M679.29 187.4v-3M679.29 0.6v3M684.48 187.4v-1.8M684.48 0.6v1.8M689.66 187.4v-1.8M689.66 0.6v1.8M694.85 187.4v-1.8M694.85 0.6v1.8M700.03 187.4v-1.8M700.03 0.6v1.8M705.22 187.4v-3M705.22 0.6v3M710.41 187.4v-1.8M710.41 0.6v1.8M715.59 187.4v-1.8M715.59 0.6v1.8M720.78 187.4v-1.8M720.78 0.6v1.8M725.96 187.4v-1.8M725.96 0.6v1.8M731.15 187.4v-3M731.15 0.6v3M736.34 187.4v-1.8M736.34 0.6v1.8M741.52 187.4v-1.8M741.52 0.6v1.8M746.71 187.4v-1.8M746.71 0.6v1.8M751.89 187.4v-1.8M751.89 0.6v1.8M757.08 187.4v-3M757.08 0.6v3M762.27 187.4v-1.8M762.27 0.6v1.8M767.45 187.4v-1.8M767.45 0.6v1.8M772.64 187.4v-1.8M772.64 0.6v1.8M777.82 187.4v-1.8M777.82 0.6v1.8M783.01 187.4v-3M783.01 0.6v3M598.2 183.6h3M785.2 183.6h-3M598.2 174.12h1.8M785.2 174.12h-1.8M598.2 164.65h1.8M785.2 164.65h-1.8M598.2 155.18h1.8M785.2 155.18h-1.8M598.2 145.7h3M785.2 145.7h-3M598.2 136.22h1.8M785.2 136.22h-1.8M598.2 126.75h1.8M785.2 126.75h-1.8M598.2 117.27h1.8M785.2 117.27h-1.8M598.2 107.8h3M785.2 107.8h-3M598.2 98.33h1.8M785.2 98.33h-1.8M598.2 88.85h1.8M785.2 88.85h-1.8M598.2 79.38h1.8M785.2 79.38h-1.8M598.2 69.9h3M785.2 69.9h-3M598.2 60.42h1.8M785.2 60.42h-1.8M598.2 50.95h1.8M785.2 50.95h-1.8M598.2 41.47h1.8M785.2 41.47h-1.8M598.2 32h3M785.2 32h-3M598.2 22.53h1.8M785.2 22.53h-1.8M598.2 13.05h1.8M785.2 13.05h-1.8M598.2 3.57h1.8M785.2 3.57h-1.8" stroke="#858585" stroke-width="0.55" fill="none"/>
<text transform="translate(601.85 201) scale(0.88 1)" text-anchor="middle" class="t">0</text>
<text transform="translate(627.78 201) scale(0.88 1)" text-anchor="middle" class="t">1</text>
<text transform="translate(653.71 201) scale(0.88 1)" text-anchor="middle" class="t">2</text>
<text transform="translate(679.64 201) scale(0.88 1)" text-anchor="middle" class="t">3</text>
<text transform="translate(705.57 201) scale(0.88 1)" text-anchor="middle" class="t">4</text>
<text transform="translate(731.5 201) scale(0.88 1)" text-anchor="middle" class="t">5</text>
<text transform="translate(757.43 201) scale(0.88 1)" text-anchor="middle" class="t">6</text>
<text transform="translate(783.36 201) scale(0.88 1)" text-anchor="middle" class="t">7</text>
<text transform="translate(595.8 187.85) scale(0.88 1)" text-anchor="end" class="t">0.00</text>
<text transform="translate(595.8 149.95) scale(0.88 1)" text-anchor="end" class="t">0.02</text>
<text transform="translate(595.8 112.05) scale(0.88 1)" text-anchor="end" class="t">0.04</text>
<text transform="translate(595.8 74.15) scale(0.88 1)" text-anchor="end" class="t">0.06</text>
<text transform="translate(595.8 36.25) scale(0.88 1)" text-anchor="end" class="t">0.08</text>
<text transform="translate(757.38 27.23) scale(0.915 1)" text-anchor="middle" class="t">11.5 GeV</text>
<text transform="translate(692.2 224.4) scale(.96 1)" text-anchor="middle" class="a"><tspan class="i">ρ</tspan> (fm)</text>
<g transform="translate(560 94) rotate(-90)" text-anchor="middle"><text x="-55" y="0" class="a">|</text><text transform="translate(-47 0) scale(1 .87)" class="a i">ψ</text><text x="-35.9" y="0" class="a">(</text><text x="-27.4" y="0" class="a i">ρ</text><text x="-18.4" y="0" class="a">)</text><text x="-9.5" y="0" class="a">|</text><text x="-0.6" y="-9.9" class="s">2</text><text x="11.2" y="0" class="a">(</text><text x="17" y="0" class="a">f</text><text x="27.4" y="0" class="a">m</text><text x="37.5" y="-9.9" class="s">−</text><text x="45.1" y="-9.9" class="s">9</text><text x="52.3" y="0" class="a">)</text></g></g>
<g><path d="M63.94 426.9h.01M66.53 426.9h.01M69.11 426.59h.01M71.69 424.6h.01M74.28 411.06h.01M76.86 380.2h.01M79.44 336.17h.01M82.02 296.75h.01M84.61 274.26h.01M87.19 272.66h.01M89.77 288.19h.01M92.35 311.68h.01M94.94 336.57h.01M97.52 360.6h.01M100.1 379.99h.01M102.68 394.35h.01M105.27 405.03h.01M107.85 412.39h.01M110.43 417.49h.01M113.01 420.7h.01M115.6 422.83h.01M118.18 424.26h.01M120.76 425.21h.01M123.35 425.8h.01M125.93 426.16h.01M128.51 426.43h.01M131.09 426.63h.01M133.68 426.76h.01M136.26 426.86h.01M138.84 426.9h.01M141.42 426.9h.01M144.01 426.9h.01M146.59 426.9h.01M149.17 426.9h.01M151.75 426.9h.01M154.34 426.9h.01M156.92 426.9h.01M159.5 426.9h.01M162.08 426.9h.01M164.67 426.9h.01M167.25 426.9h.01M169.83 426.9h.01M172.42 426.9h.01M175 426.9h.01M177.58 426.9h.01M180.16 426.9h.01M182.75 426.9h.01M185.33 426.9h.01M187.91 426.9h.01M190.49 426.9h.01M193.08 426.9h.01M195.66 426.9h.01M198.24 426.9h.01M200.82 426.9h.01M203.41 426.9h.01M205.99 426.9h.01M208.57 426.9h.01M211.15 426.9h.01M213.74 426.9h.01M216.32 426.9h.01M218.9 426.9h.01M221.48 426.9h.01M224.07 426.9h.01M226.65 426.9h.01M229.23 426.9h.01M231.82 426.9h.01M234.4 426.9h.01M236.98 426.9h.01M239.56 426.9h.01M242.15 426.9h.01" stroke="#0000ff" stroke-width="5.3" stroke-linecap="round" fill="none"/>
<path d="M61.94 423.99h4v4h-4zM64.53 423.99h4v4h-4zM67.11 423.99h4v4h-4zM69.69 423.99h4v4h-4zM72.28 423.79h4v4h-4zM74.86 368.84h4v4h-4zM77.44 318.64h4v4h-4zM80.02 294.16h4v4h-4zM82.61 257.92h4v4h-4zM85.19 251.55h4v4h-4zM87.77 250.56h4v4h-4zM90.35 253.14h4v4h-4zM92.94 263.3h4v4h-4zM95.52 275.04h4v4h-4zM98.1 289.38h4v4h-4zM100.68 303.51h4v4h-4zM103.27 317.05h4v4h-4zM105.85 329h4v4h-4zM108.43 338.78h4v4h-4zM111.01 347.74h4v4h-4zM113.6 355.11h4v4h-4zM116.18 361.68h4v4h-4zM118.76 367.45h4v4h-4zM121.35 372.43h4v4h-4zM123.93 377.15h4v4h-4zM126.51 380.95h4v4h-4zM129.09 384.51h4v4h-4zM131.68 387.84h4v4h-4zM134.26 390.8h4v4h-4zM136.84 393.42h4v4h-4zM139.42 395.79h4v4h-4zM142.01 397.93h4v4h-4zM144.59 399.94h4v4h-4zM147.17 401.84h4v4h-4zM149.75 403.5h4v4h-4zM152.34 405.05h4v4h-4zM154.92 406.47h4v4h-4zM157.5 407.78h4v4h-4zM160.08 408.96h4v4h-4zM162.67 410.14h4v4h-4zM165.25 411.27h4v4h-4zM167.83 412.34h4v4h-4zM170.42 413.34h4v4h-4zM173 414.26h4v4h-4zM175.58 415.12h4v4h-4zM178.16 415.92h4v4h-4zM180.75 416.66h4v4h-4zM183.33 417.35h4v4h-4zM185.91 417.99h4v4h-4zM188.49 418.58h4v4h-4zM191.08 419.12h4v4h-4zM193.66 419.63h4v4h-4zM196.24 420.1h4v4h-4zM198.82 420.54h4v4h-4zM201.41 420.95h4v4h-4zM203.99 421.35h4v4h-4zM206.57 421.71h4v4h-4zM209.15 422.02h4v4h-4zM211.74 422.29h4v4h-4zM214.32 422.54h4v4h-4zM216.9 422.76h4v4h-4zM219.48 422.96h4v4h-4zM222.07 423.13h4v4h-4zM224.65 423.27h4v4h-4zM227.23 423.39h4v4h-4zM229.82 423.5h4v4h-4zM232.4 423.6h4v4h-4zM234.98 423.68h4v4h-4zM237.56 423.76h4v4h-4zM240.15 423.82h4v4h-4z" fill="#ff0000"/>
<path d="M63.94 424.95l2.5 4.8h-5zM66.53 424.95l2.5 4.8h-5zM69.11 424.95l2.5 4.8h-5zM71.69 424.95l2.5 4.8h-5zM74.28 424.95l2.5 4.8h-5zM76.86 424.95l2.5 4.8h-5zM79.44 424.95l2.5 4.8h-5zM82.02 424.95l2.5 4.8h-5zM84.61 424.95l2.5 4.8h-5zM87.19 424.95l2.5 4.8h-5zM89.77 424.95l2.5 4.8h-5zM92.35 418.06l2.5 4.8h-5zM94.94 401.44l2.5 4.8h-5zM97.52 388.03l2.5 4.8h-5zM100.1 382.33l2.5 4.8h-5zM102.68 380.32l2.5 4.8h-5zM105.27 381.15l2.5 4.8h-5zM107.85 385.06l2.5 4.8h-5zM110.43 388.03l2.5 4.8h-5zM113.01 392.78l2.5 4.8h-5zM115.6 396.93l2.5 4.8h-5zM118.18 400.73l2.5 4.8h-5zM120.76 404.05l2.5 4.8h-5zM123.35 407.26l2.5 4.8h-5zM125.93 409.99l2.5 4.8h-5zM128.51 412.36l2.5 4.8h-5zM131.09 414.5l2.5 4.8h-5zM133.68 416.28l2.5 4.8h-5zM136.26 417.7l2.5 4.8h-5zM138.84 419.01l2.5 4.8h-5zM141.42 420.08l2.5 4.8h-5zM144.01 420.91l2.5 4.8h-5zM146.59 421.63l2.5 4.8h-5zM149.17 422.24l2.5 4.8h-5zM151.75 422.74l2.5 4.8h-5zM154.34 423.12l2.5 4.8h-5zM156.92 423.52l2.5 4.8h-5zM159.5 423.85l2.5 4.8h-5zM162.08 424.09l2.5 4.8h-5zM164.67 424.22l2.5 4.8h-5zM167.25 424.34l2.5 4.8h-5zM169.83 424.44l2.5 4.8h-5zM172.42 424.52l2.5 4.8h-5zM175 424.58l2.5 4.8h-5zM177.58 424.63l2.5 4.8h-5zM180.16 424.66l2.5 4.8h-5zM182.75 424.68l2.5 4.8h-5zM185.33 424.7l2.5 4.8h-5zM187.91 424.72l2.5 4.8h-5zM190.49 424.75l2.5 4.8h-5zM193.08 424.77l2.5 4.8h-5zM195.66 424.78l2.5 4.8h-5zM198.24 424.8l2.5 4.8h-5zM200.82 424.82l2.5 4.8h-5zM203.41 424.84l2.5 4.8h-5zM205.99 424.85l2.5 4.8h-5zM208.57 424.86l2.5 4.8h-5zM211.15 424.88l2.5 4.8h-5zM213.74 424.89l2.5 4.8h-5zM216.32 424.9l2.5 4.8h-5zM218.9 424.91l2.5 4.8h-5zM221.48 424.92l2.5 4.8h-5zM224.07 424.93l2.5 4.8h-5zM226.65 424.93l2.5 4.8h-5zM229.23 424.94l2.5 4.8h-5zM231.82 424.94l2.5 4.8h-5zM234.4 424.95l2.5 4.8h-5zM236.98 424.95l2.5 4.8h-5zM239.56 424.95l2.5 4.8h-5zM242.15 424.95l2.5 4.8h-5z" fill="#00a400"/>
<rect x="59.5" y="244" width="187" height="186.5" fill="none" stroke="#858585" stroke-width="0.65"/>
<path d="M62.7 430.5v-3M62.7 244v3M67.89 430.5v-1.8M67.89 244v1.8M73.07 430.5v-1.8M73.07 244v1.8M78.26 430.5v-1.8M78.26 244v1.8M83.44 430.5v-1.8M83.44 244v1.8M88.63 430.5v-3M88.63 244v3M93.82 430.5v-1.8M93.82 244v1.8M99 430.5v-1.8M99 244v1.8M104.19 430.5v-1.8M104.19 244v1.8M109.37 430.5v-1.8M109.37 244v1.8M114.56 430.5v-3M114.56 244v3M119.75 430.5v-1.8M119.75 244v1.8M124.93 430.5v-1.8M124.93 244v1.8M130.12 430.5v-1.8M130.12 244v1.8M135.3 430.5v-1.8M135.3 244v1.8M140.49 430.5v-3M140.49 244v3M145.68 430.5v-1.8M145.68 244v1.8M150.86 430.5v-1.8M150.86 244v1.8M156.05 430.5v-1.8M156.05 244v1.8M161.23 430.5v-1.8M161.23 244v1.8M166.42 430.5v-3M166.42 244v3M171.61 430.5v-1.8M171.61 244v1.8M176.79 430.5v-1.8M176.79 244v1.8M181.98 430.5v-1.8M181.98 244v1.8M187.16 430.5v-1.8M187.16 244v1.8M192.35 430.5v-3M192.35 244v3M197.54 430.5v-1.8M197.54 244v1.8M202.72 430.5v-1.8M202.72 244v1.8M207.91 430.5v-1.8M207.91 244v1.8M213.09 430.5v-1.8M213.09 244v1.8M218.28 430.5v-3M218.28 244v3M223.47 430.5v-1.8M223.47 244v1.8M228.65 430.5v-1.8M228.65 244v1.8M233.84 430.5v-1.8M233.84 244v1.8M239.02 430.5v-1.8M239.02 244v1.8M244.21 430.5v-3M244.21 244v3M59.5 426.9h3M246.5 426.9h-3M59.5 416.51h1.8M246.5 416.51h-1.8M59.5 406.12h1.8M246.5 406.12h-1.8M59.5 395.73h1.8M246.5 395.73h-1.8M59.5 385.34h3M246.5 385.34h-3M59.5 374.95h1.8M246.5 374.95h-1.8M59.5 364.56h1.8M246.5 364.56h-1.8M59.5 354.17h1.8M246.5 354.17h-1.8M59.5 343.78h3M246.5 343.78h-3M59.5 333.39h1.8M246.5 333.39h-1.8M59.5 323h1.8M246.5 323h-1.8M59.5 312.61h1.8M246.5 312.61h-1.8M59.5 302.22h3M246.5 302.22h-3M59.5 291.83h1.8M246.5 291.83h-1.8M59.5 281.44h1.8M246.5 281.44h-1.8M59.5 271.05h1.8M246.5 271.05h-1.8M59.5 260.66h3M246.5 260.66h-3M59.5 250.27h1.8M246.5 250.27h-1.8" stroke="#858585" stroke-width="0.55" fill="none"/>
<text transform="translate(63.05 444.6) scale(0.88 1)" text-anchor="middle" class="t">0</text>
<text transform="translate(88.98 444.6) scale(0.88 1)" text-anchor="middle" class="t">1</text>
<text transform="translate(114.91 444.6) scale(0.88 1)" text-anchor="middle" class="t">2</text>
<text transform="translate(140.84 444.6) scale(0.88 1)" text-anchor="middle" class="t">3</text>
<text transform="translate(166.77 444.6) scale(0.88 1)" text-anchor="middle" class="t">4</text>
<text transform="translate(192.7 444.6) scale(0.88 1)" text-anchor="middle" class="t">5</text>
<text transform="translate(218.63 444.6) scale(0.88 1)" text-anchor="middle" class="t">6</text>
<text transform="translate(244.56 444.6) scale(0.88 1)" text-anchor="middle" class="t">7</text>
<text transform="translate(57.1 431.15) scale(0.88 1)" text-anchor="end" class="t">0.00</text>
<text transform="translate(57.1 389.59) scale(0.88 1)" text-anchor="end" class="t">0.02</text>
<text transform="translate(57.1 348.03) scale(0.88 1)" text-anchor="end" class="t">0.04</text>
<text transform="translate(57.1 306.47) scale(0.88 1)" text-anchor="end" class="t">0.06</text>
<text transform="translate(57.1 264.91) scale(0.88 1)" text-anchor="end" class="t">0.08</text>
<text transform="translate(218.58 265.36) scale(0.915 1)" text-anchor="middle" class="t">19.6 GeV</text>
<text transform="translate(153.5 467.5) scale(.96 1)" text-anchor="middle" class="a"><tspan class="i">ρ</tspan> (fm)</text>
<g transform="translate(21.3 337.25) rotate(-90)" text-anchor="middle"><text x="-55" y="0" class="a">|</text><text transform="translate(-47 0) scale(1 .87)" class="a i">ψ</text><text x="-35.9" y="0" class="a">(</text><text x="-27.4" y="0" class="a i">ρ</text><text x="-18.4" y="0" class="a">)</text><text x="-9.5" y="0" class="a">|</text><text x="-0.6" y="-9.9" class="s">2</text><text x="11.2" y="0" class="a">(</text><text x="17" y="0" class="a">f</text><text x="27.4" y="0" class="a">m</text><text x="37.5" y="-9.9" class="s">−</text><text x="45.1" y="-9.9" class="s">9</text><text x="52.3" y="0" class="a">)</text></g></g>
<g><path d="M333.04 426.9h.01M335.63 426.9h.01M338.21 426.39h.01M340.79 424.2h.01M343.38 412.05h.01M345.96 382.99h.01M348.54 342.57h.01M351.12 306.35h.01M353.71 284.95h.01M356.29 283.25h.01M358.87 297.66h.01M361.45 319.27h.01M364.04 343.37h.01M366.62 365.27h.01M369.2 383.31h.01M371.78 396.6h.01M374.37 406.45h.01M376.95 413.34h.01M379.53 418.09h.01M382.11 421.29h.01M384.7 423.31h.01M387.28 424.61h.01M389.86 425.45h.01M392.45 426.04h.01M395.03 426.39h.01M397.61 426.61h.01M400.19 426.75h.01M402.78 426.83h.01M405.36 426.88h.01M407.94 426.9h.01M410.52 426.9h.01M413.11 426.9h.01M415.69 426.9h.01M418.27 426.9h.01M420.85 426.9h.01M423.44 426.9h.01M426.02 426.9h.01M428.6 426.9h.01M431.18 426.9h.01M433.77 426.9h.01M436.35 426.9h.01M438.93 426.9h.01M441.52 426.9h.01M444.1 426.9h.01M446.68 426.9h.01M449.26 426.9h.01M451.85 426.9h.01M454.43 426.9h.01M457.01 426.9h.01M459.59 426.9h.01M462.18 426.9h.01M464.76 426.9h.01M467.34 426.9h.01M469.92 426.9h.01M472.51 426.9h.01M475.09 426.9h.01M477.67 426.9h.01M480.25 426.9h.01M482.84 426.9h.01M485.42 426.9h.01M488 426.9h.01M490.58 426.9h.01M493.17 426.9h.01M495.75 426.9h.01M498.33 426.9h.01M500.92 426.9h.01M503.5 426.9h.01M506.08 426.9h.01M508.66 426.9h.01M511.25 426.9h.01" stroke="#0000ff" stroke-width="5.3" stroke-linecap="round" fill="none"/>
<path d="M331.04 423.99h4v4h-4zM333.63 423.99h4v4h-4zM336.21 423.99h4v4h-4zM338.79 423.99h4v4h-4zM341.38 423.79h4v4h-4zM343.96 357.3h4v4h-4zM346.54 308.16h4v4h-4zM349.12 303.92h4v4h-4zM351.71 282.53h4v4h-4zM354.29 254.14h4v4h-4zM356.87 250.53h4v4h-4zM359.45 251.17h4v4h-4zM362.04 259.01h4v4h-4zM364.62 273.84h4v4h-4zM367.2 285.49h4v4h-4zM369.78 299.9h4v4h-4zM372.37 312.82h4v4h-4zM374.95 323.63h4v4h-4zM377.53 333.58h4v4h-4zM380.11 342.57h4v4h-4zM382.7 349.93h4v4h-4zM385.28 356.9h4v4h-4zM387.86 362.87h4v4h-4zM390.45 367.85h4v4h-4zM393.03 372.43h4v4h-4zM395.61 376.81h4v4h-4zM398.19 380.5h4v4h-4zM400.78 383.8h4v4h-4zM403.36 386.76h4v4h-4zM405.94 389.45h4v4h-4zM408.52 391.89h4v4h-4zM411.11 394.13h4v4h-4zM413.69 396.2h4v4h-4zM416.27 398.12h4v4h-4zM418.85 399.89h4v4h-4zM421.44 401.51h4v4h-4zM424.02 402.99h4v4h-4zM426.6 404.38h4v4h-4zM429.18 405.69h4v4h-4zM431.77 406.92h4v4h-4zM434.35 408.06h4v4h-4zM436.93 409.13h4v4h-4zM439.52 410.15h4v4h-4zM442.1 411.13h4v4h-4zM444.68 412.08h4v4h-4zM447.26 412.98h4v4h-4zM449.85 413.83h4v4h-4zM452.43 414.63h4v4h-4zM455.01 415.37h4v4h-4zM457.59 416.06h4v4h-4zM460.18 416.71h4v4h-4zM462.76 417.32h4v4h-4zM465.34 417.89h4v4h-4zM467.92 418.43h4v4h-4zM470.51 418.95h4v4h-4zM473.09 419.45h4v4h-4zM475.67 419.9h4v4h-4zM478.25 420.32h4v4h-4zM480.84 420.7h4v4h-4zM483.42 421.05h4v4h-4zM486 421.38h4v4h-4zM488.58 421.68h4v4h-4zM491.17 421.95h4v4h-4zM493.75 422.2h4v4h-4zM496.33 422.43h4v4h-4zM498.92 422.65h4v4h-4zM501.5 422.85h4v4h-4zM504.08 423.03h4v4h-4zM506.66 423.17h4v4h-4zM509.25 423.3h4v4h-4z" fill="#ff0000"/>
<path d="M333.04 424.95l2.5 4.8h-5zM335.63 424.95l2.5 4.8h-5zM338.21 424.95l2.5 4.8h-5zM340.79 424.95l2.5 4.8h-5zM343.38 424.95l2.5 4.8h-5zM345.96 424.95l2.5 4.8h-5zM348.54 424.95l2.5 4.8h-5zM351.12 424.95l2.5 4.8h-5zM353.71 424.95l2.5 4.8h-5zM356.29 424.95l2.5 4.8h-5zM358.87 424.95l2.5 4.8h-5zM361.45 411.41l2.5 4.8h-5zM364.04 395.15l2.5 4.8h-5zM366.62 384.47l2.5 4.8h-5zM369.2 377.59l2.5 4.8h-5zM371.78 378.3l2.5 4.8h-5zM374.37 378.53l2.5 4.8h-5zM376.95 382.33l2.5 4.8h-5zM379.53 386.61l2.5 4.8h-5zM382.11 391l2.5 4.8h-5zM384.7 395.15l2.5 4.8h-5zM387.28 399.19l2.5 4.8h-5zM389.86 402.87l2.5 4.8h-5zM392.45 406.19l2.5 4.8h-5zM395.03 409.04l2.5 4.8h-5zM397.61 411.53l2.5 4.8h-5zM400.19 413.79l2.5 4.8h-5zM402.78 415.69l2.5 4.8h-5zM405.36 417.35l2.5 4.8h-5zM407.94 418.77l2.5 4.8h-5zM410.52 419.96l2.5 4.8h-5zM413.11 420.91l2.5 4.8h-5zM415.69 421.63l2.5 4.8h-5zM418.27 422.24l2.5 4.8h-5zM420.85 422.73l2.5 4.8h-5zM423.44 423.12l2.5 4.8h-5zM426.02 423.51l2.5 4.8h-5zM428.6 423.84l2.5 4.8h-5zM431.18 424.08l2.5 4.8h-5zM433.77 424.22l2.5 4.8h-5zM436.35 424.34l2.5 4.8h-5zM438.93 424.44l2.5 4.8h-5zM441.52 424.53l2.5 4.8h-5zM444.1 424.59l2.5 4.8h-5zM446.68 424.64l2.5 4.8h-5zM449.26 424.67l2.5 4.8h-5zM451.85 424.69l2.5 4.8h-5zM454.43 424.71l2.5 4.8h-5zM457.01 424.73l2.5 4.8h-5zM459.59 424.75l2.5 4.8h-5zM462.18 424.77l2.5 4.8h-5zM464.76 424.79l2.5 4.8h-5zM467.34 424.81l2.5 4.8h-5zM469.92 424.83l2.5 4.8h-5zM472.51 424.84l2.5 4.8h-5zM475.09 424.86l2.5 4.8h-5zM477.67 424.87l2.5 4.8h-5zM480.25 424.88l2.5 4.8h-5zM482.84 424.89l2.5 4.8h-5zM485.42 424.9l2.5 4.8h-5zM488 424.91l2.5 4.8h-5zM490.58 424.92l2.5 4.8h-5zM493.17 424.93l2.5 4.8h-5zM495.75 424.93l2.5 4.8h-5zM498.33 424.94l2.5 4.8h-5zM500.92 424.94l2.5 4.8h-5zM503.5 424.95l2.5 4.8h-5zM506.08 424.95l2.5 4.8h-5zM508.66 424.95l2.5 4.8h-5zM511.25 424.95l2.5 4.8h-5z" fill="#00a400"/>
<rect x="328.5" y="244" width="187" height="186.5" fill="none" stroke="#858585" stroke-width="0.65"/>
<path d="M331.8 430.5v-3M331.8 244v3M336.99 430.5v-1.8M336.99 244v1.8M342.17 430.5v-1.8M342.17 244v1.8M347.36 430.5v-1.8M347.36 244v1.8M352.54 430.5v-1.8M352.54 244v1.8M357.73 430.5v-3M357.73 244v3M362.92 430.5v-1.8M362.92 244v1.8M368.1 430.5v-1.8M368.1 244v1.8M373.29 430.5v-1.8M373.29 244v1.8M378.47 430.5v-1.8M378.47 244v1.8M383.66 430.5v-3M383.66 244v3M388.85 430.5v-1.8M388.85 244v1.8M394.03 430.5v-1.8M394.03 244v1.8M399.22 430.5v-1.8M399.22 244v1.8M404.4 430.5v-1.8M404.4 244v1.8M409.59 430.5v-3M409.59 244v3M414.78 430.5v-1.8M414.78 244v1.8M419.96 430.5v-1.8M419.96 244v1.8M425.15 430.5v-1.8M425.15 244v1.8M430.33 430.5v-1.8M430.33 244v1.8M435.52 430.5v-3M435.52 244v3M440.71 430.5v-1.8M440.71 244v1.8M445.89 430.5v-1.8M445.89 244v1.8M451.08 430.5v-1.8M451.08 244v1.8M456.26 430.5v-1.8M456.26 244v1.8M461.45 430.5v-3M461.45 244v3M466.64 430.5v-1.8M466.64 244v1.8M471.82 430.5v-1.8M471.82 244v1.8M477.01 430.5v-1.8M477.01 244v1.8M482.19 430.5v-1.8M482.19 244v1.8M487.38 430.5v-3M487.38 244v3M492.57 430.5v-1.8M492.57 244v1.8M497.75 430.5v-1.8M497.75 244v1.8M502.94 430.5v-1.8M502.94 244v1.8M508.12 430.5v-1.8M508.12 244v1.8M513.31 430.5v-3M513.31 244v3M328.5 426.9h3M515.5 426.9h-3M328.5 417.12h1.8M515.5 417.12h-1.8M328.5 407.34h1.8M515.5 407.34h-1.8M328.5 397.56h1.8M515.5 397.56h-1.8M328.5 387.78h3M515.5 387.78h-3M328.5 378h1.8M515.5 378h-1.8M328.5 368.22h1.8M515.5 368.22h-1.8M328.5 358.44h1.8M515.5 358.44h-1.8M328.5 348.66h3M515.5 348.66h-3M328.5 338.88h1.8M515.5 338.88h-1.8M328.5 329.1h1.8M515.5 329.1h-1.8M328.5 319.32h1.8M515.5 319.32h-1.8M328.5 309.54h3M515.5 309.54h-3M328.5 299.76h1.8M515.5 299.76h-1.8M328.5 289.98h1.8M515.5 289.98h-1.8M328.5 280.2h1.8M515.5 280.2h-1.8M328.5 270.42h3M515.5 270.42h-3M328.5 260.64h1.8M515.5 260.64h-1.8M328.5 250.86h1.8M515.5 250.86h-1.8" stroke="#858585" stroke-width="0.55" fill="none"/>
<text transform="translate(332.15 444.6) scale(0.88 1)" text-anchor="middle" class="t">0</text>
<text transform="translate(358.08 444.6) scale(0.88 1)" text-anchor="middle" class="t">1</text>
<text transform="translate(384.01 444.6) scale(0.88 1)" text-anchor="middle" class="t">2</text>
<text transform="translate(409.94 444.6) scale(0.88 1)" text-anchor="middle" class="t">3</text>
<text transform="translate(435.87 444.6) scale(0.88 1)" text-anchor="middle" class="t">4</text>
<text transform="translate(461.8 444.6) scale(0.88 1)" text-anchor="middle" class="t">5</text>
<text transform="translate(487.73 444.6) scale(0.88 1)" text-anchor="middle" class="t">6</text>
<text transform="translate(513.66 444.6) scale(0.88 1)" text-anchor="middle" class="t">7</text>
<text transform="translate(326.1 431.15) scale(0.88 1)" text-anchor="end" class="t">0.00</text>
<text transform="translate(326.1 392.03) scale(0.88 1)" text-anchor="end" class="t">0.02</text>
<text transform="translate(326.1 352.91) scale(0.88 1)" text-anchor="end" class="t">0.04</text>
<text transform="translate(326.1 313.79) scale(0.88 1)" text-anchor="end" class="t">0.06</text>
<text transform="translate(326.1 274.67) scale(0.88 1)" text-anchor="end" class="t">0.08</text>
<text transform="translate(487.68 270.62) scale(0.915 1)" text-anchor="middle" class="t">27 GeV</text>
<text transform="translate(422.5 467.5) scale(.96 1)" text-anchor="middle" class="a"><tspan class="i">ρ</tspan> (fm)</text>
<g transform="translate(290.3 337.25) rotate(-90)" text-anchor="middle"><text x="-55" y="0" class="a">|</text><text transform="translate(-47 0) scale(1 .87)" class="a i">ψ</text><text x="-35.9" y="0" class="a">(</text><text x="-27.4" y="0" class="a i">ρ</text><text x="-18.4" y="0" class="a">)</text><text x="-9.5" y="0" class="a">|</text><text x="-0.6" y="-9.9" class="s">2</text><text x="11.2" y="0" class="a">(</text><text x="17" y="0" class="a">f</text><text x="27.4" y="0" class="a">m</text><text x="37.5" y="-9.9" class="s">−</text><text x="45.1" y="-9.9" class="s">9</text><text x="52.3" y="0" class="a">)</text></g></g>
<g><path d="M606.19 426.99h.01M608.67 426.99h.01M611.15 426.59h.01M613.62 424.6h.01M616.1 412.85h.01M618.58 385.58h.01M621.06 348.35h.01M623.53 314.47h.01M626.01 295.36h.01M628.49 294.56h.01M630.96 307.5h.01M633.44 328.01h.01M635.92 350.34h.01M638.4 370.45h.01M640.87 386.63h.01M643.35 399.33h.01M645.83 408.47h.01M648.3 414.76h.01M650.78 419.15h.01M653.26 422h.01M655.73 423.9h.01M658.21 425.09h.01M660.69 425.8h.01M663.17 426.28h.01M665.64 426.56h.01M668.12 426.75h.01M670.6 426.87h.01M673.07 426.95h.01M675.55 426.99h.01M678.03 426.99h.01M680.51 426.99h.01M682.98 426.99h.01M685.46 426.99h.01M687.94 426.99h.01M690.41 426.99h.01M692.89 426.99h.01M695.37 426.99h.01M697.84 426.99h.01M700.32 426.99h.01M702.8 426.99h.01M705.28 427h.01M707.75 427h.01M710.23 427h.01M712.71 427h.01M715.18 427h.01M717.66 427h.01M720.14 427h.01M722.62 427h.01M725.09 427h.01M727.57 427h.01M730.05 427h.01M732.52 427h.01M735 427h.01M737.48 427h.01M739.95 427h.01M742.43 427h.01M744.91 427h.01M747.39 427h.01M749.86 427h.01M752.34 427h.01M754.82 427h.01M757.29 427h.01M759.77 427h.01M762.25 427h.01M764.73 427h.01M767.2 427h.01M769.68 427h.01M772.16 427h.01M774.63 427h.01M777.11 427h.01" stroke="#0000ff" stroke-width="5.3" stroke-linecap="round" fill="none"/>
<path d="M604.19 423.99h4v4h-4zM606.67 423.99h4v4h-4zM609.15 423.99h4v4h-4zM611.62 423.99h4v4h-4zM614.1 423.99h4v4h-4zM616.58 390.94h4v4h-4zM619.06 365.46h4v4h-4zM621.53 306.1h4v4h-4zM624.01 292.16h4v4h-4zM626.49 266.68h4v4h-4zM628.96 257.92h4v4h-4zM631.44 269.87h4v4h-4zM633.92 279.42h4v4h-4zM636.4 293.96h4v4h-4zM638.87 302.32h4v4h-4zM641.35 313.86h4v4h-4zM643.83 325.21h4v4h-4zM646.3 333.97h4v4h-4zM648.78 342.37h4v4h-4zM651.26 349.93h4v4h-4zM653.73 356.5h4v4h-4zM656.21 362.27h4v4h-4zM658.69 367.45h4v4h-4zM661.17 372.23h4v4h-4zM663.64 376.41h4v4h-4zM666.12 380.19h4v4h-4zM668.6 383.48h4v4h-4zM671.07 386.47h4v4h-4zM673.55 389.19h4v4h-4zM676.03 391.65h4v4h-4zM678.51 393.87h4v4h-4zM680.98 395.87h4v4h-4zM683.46 397.67h4v4h-4zM685.94 399.28h4v4h-4zM688.41 400.73h4v4h-4zM690.89 402.06h4v4h-4zM693.37 403.3h4v4h-4zM695.84 404.47h4v4h-4zM698.32 405.54h4v4h-4zM700.8 406.54h4v4h-4zM703.28 407.47h4v4h-4zM705.75 408.38h4v4h-4zM708.23 409.26h4v4h-4zM710.71 410.12h4v4h-4zM713.18 410.96h4v4h-4zM715.66 411.76h4v4h-4zM718.14 412.51h4v4h-4zM720.62 413.22h4v4h-4zM723.09 413.88h4v4h-4zM725.57 414.51h4v4h-4zM728.05 415.1h4v4h-4zM730.52 415.67h4v4h-4zM733 416.21h4v4h-4zM735.48 416.73h4v4h-4zM737.95 417.23h4v4h-4zM740.43 417.71h4v4h-4zM742.91 418.16h4v4h-4zM745.39 418.58h4v4h-4zM747.86 418.97h4v4h-4zM750.34 419.34h4v4h-4zM752.82 419.68h4v4h-4zM755.29 420.01h4v4h-4zM757.77 420.34h4v4h-4zM760.25 420.66h4v4h-4zM762.73 420.98h4v4h-4zM765.2 421.28h4v4h-4zM767.68 421.57h4v4h-4zM770.16 421.85h4v4h-4zM772.63 422.11h4v4h-4zM775.11 422.35h4v4h-4z" fill="#ff0000"/>
<path d="M606.19 425.05l2.5 4.8h-5zM608.67 425.05l2.5 4.8h-5zM611.15 425.05l2.5 4.8h-5zM613.62 425.05l2.5 4.8h-5zM616.1 425.05l2.5 4.8h-5zM618.58 425.05l2.5 4.8h-5zM621.06 425.05l2.5 4.8h-5zM623.53 425.05l2.5 4.8h-5zM626.01 425.03l2.5 4.8h-5zM628.49 425.03l2.5 4.8h-5zM630.96 424.84l2.5 4.8h-5zM633.44 418.06l2.5 4.8h-5zM635.92 403.82l2.5 4.8h-5zM638.4 396.93l2.5 4.8h-5zM640.87 388.03l2.5 4.8h-5zM643.35 384.83l2.5 4.8h-5zM645.83 384.47l2.5 4.8h-5zM648.3 387.08l2.5 4.8h-5zM650.78 390.4l2.5 4.8h-5zM653.26 393.96l2.5 4.8h-5zM655.73 397.76l2.5 4.8h-5zM658.21 401.68l2.5 4.8h-5zM660.69 404.88l2.5 4.8h-5zM663.17 407.85l2.5 4.8h-5zM665.64 410.58l2.5 4.8h-5zM668.12 412.96l2.5 4.8h-5zM670.6 415.09l2.5 4.8h-5zM673.07 416.87l2.5 4.8h-5zM675.55 418.42l2.5 4.8h-5zM678.03 419.6l2.5 4.8h-5zM680.51 420.67l2.5 4.8h-5zM682.98 421.51l2.5 4.8h-5zM685.46 422.23l2.5 4.8h-5zM687.94 422.72l2.5 4.8h-5zM690.41 423.22l2.5 4.8h-5zM692.89 423.62l2.5 4.8h-5zM695.37 423.84l2.5 4.8h-5zM697.84 424.04l2.5 4.8h-5zM700.32 424.3l2.5 4.8h-5zM702.8 424.5l2.5 4.8h-5zM705.28 424.57l2.5 4.8h-5zM707.75 424.63l2.5 4.8h-5zM710.23 424.68l2.5 4.8h-5zM712.71 424.71l2.5 4.8h-5zM715.18 424.74l2.5 4.8h-5zM717.66 424.76l2.5 4.8h-5zM720.14 424.78l2.5 4.8h-5zM722.62 424.8l2.5 4.8h-5zM725.09 424.82l2.5 4.8h-5zM727.57 424.84l2.5 4.8h-5zM730.05 424.86l2.5 4.8h-5zM732.52 424.88l2.5 4.8h-5zM735 424.89l2.5 4.8h-5zM737.48 424.91l2.5 4.8h-5zM739.95 424.93l2.5 4.8h-5zM742.43 424.94l2.5 4.8h-5zM744.91 424.96l2.5 4.8h-5zM747.39 424.97l2.5 4.8h-5zM749.86 424.98l2.5 4.8h-5zM752.34 424.99l2.5 4.8h-5zM754.82 425l2.5 4.8h-5zM757.29 425.01l2.5 4.8h-5zM759.77 425.02l2.5 4.8h-5zM762.25 425.03l2.5 4.8h-5zM764.73 425.03l2.5 4.8h-5zM767.2 425.04l2.5 4.8h-5zM769.68 425.04l2.5 4.8h-5zM772.16 425.05l2.5 4.8h-5zM774.63 425.05l2.5 4.8h-5zM777.11 425.05l2.5 4.8h-5z" fill="#00a400"/>
<rect x="601.8" y="251" width="179.8" height="179.4" fill="none" stroke="#858585" stroke-width="0.65"/>
<path d="M605 430.4v-3M605 251v3M609.97 430.4v-1.8M609.97 251v1.8M614.95 430.4v-1.8M614.95 251v1.8M619.92 430.4v-1.8M619.92 251v1.8M624.9 430.4v-1.8M624.9 251v1.8M629.87 430.4v-3M629.87 251v3M634.84 430.4v-1.8M634.84 251v1.8M639.82 430.4v-1.8M639.82 251v1.8M644.79 430.4v-1.8M644.79 251v1.8M649.77 430.4v-1.8M649.77 251v1.8M654.74 430.4v-3M654.74 251v3M659.71 430.4v-1.8M659.71 251v1.8M664.69 430.4v-1.8M664.69 251v1.8M669.66 430.4v-1.8M669.66 251v1.8M674.64 430.4v-1.8M674.64 251v1.8M679.61 430.4v-3M679.61 251v3M684.58 430.4v-1.8M684.58 251v1.8M689.56 430.4v-1.8M689.56 251v1.8M694.53 430.4v-1.8M694.53 251v1.8M699.51 430.4v-1.8M699.51 251v1.8M704.48 430.4v-3M704.48 251v3M709.45 430.4v-1.8M709.45 251v1.8M714.43 430.4v-1.8M714.43 251v1.8M719.4 430.4v-1.8M719.4 251v1.8M724.38 430.4v-1.8M724.38 251v1.8M729.35 430.4v-3M729.35 251v3M734.32 430.4v-1.8M734.32 251v1.8M739.3 430.4v-1.8M739.3 251v1.8M744.27 430.4v-1.8M744.27 251v1.8M749.25 430.4v-1.8M749.25 251v1.8M754.22 430.4v-3M754.22 251v3M759.19 430.4v-1.8M759.19 251v1.8M764.17 430.4v-1.8M764.17 251v1.8M769.14 430.4v-1.8M769.14 251v1.8M774.12 430.4v-1.8M774.12 251v1.8M779.09 430.4v-3M779.09 251v3M601.8 427h3M781.6 427h-3M601.8 418.2h1.8M781.6 418.2h-1.8M601.8 409.4h1.8M781.6 409.4h-1.8M601.8 400.6h1.8M781.6 400.6h-1.8M601.8 391.8h3M781.6 391.8h-3M601.8 383h1.8M781.6 383h-1.8M601.8 374.2h1.8M781.6 374.2h-1.8M601.8 365.4h1.8M781.6 365.4h-1.8M601.8 356.6h3M781.6 356.6h-3M601.8 347.8h1.8M781.6 347.8h-1.8M601.8 339h1.8M781.6 339h-1.8M601.8 330.2h1.8M781.6 330.2h-1.8M601.8 321.4h3M781.6 321.4h-3M601.8 312.6h1.8M781.6 312.6h-1.8M601.8 303.8h1.8M781.6 303.8h-1.8M601.8 295h1.8M781.6 295h-1.8M601.8 286.2h3M781.6 286.2h-3M601.8 277.4h1.8M781.6 277.4h-1.8M601.8 268.6h1.8M781.6 268.6h-1.8M601.8 259.8h1.8M781.6 259.8h-1.8M601.8 251h3M781.6 251h-3" stroke="#858585" stroke-width="0.55" fill="none"/>
<text transform="translate(605.35 444.8) scale(0.88 1)" text-anchor="middle" class="t">0</text>
<text transform="translate(630.22 444.8) scale(0.88 1)" text-anchor="middle" class="t">1</text>
<text transform="translate(655.09 444.8) scale(0.88 1)" text-anchor="middle" class="t">2</text>
<text transform="translate(679.96 444.8) scale(0.88 1)" text-anchor="middle" class="t">3</text>
<text transform="translate(704.83 444.8) scale(0.88 1)" text-anchor="middle" class="t">4</text>
<text transform="translate(729.7 444.8) scale(0.88 1)" text-anchor="middle" class="t">5</text>
<text transform="translate(754.57 444.8) scale(0.88 1)" text-anchor="middle" class="t">6</text>
<text transform="translate(779.44 444.8) scale(0.88 1)" text-anchor="middle" class="t">7</text>
<text transform="translate(599.4 431.25) scale(0.88 1)" text-anchor="end" class="t">0.00</text>
<text transform="translate(599.4 396.05) scale(0.88 1)" text-anchor="end" class="t">0.02</text>
<text transform="translate(599.4 360.85) scale(0.88 1)" text-anchor="end" class="t">0.04</text>
<text transform="translate(599.4 325.65) scale(0.88 1)" text-anchor="end" class="t">0.06</text>
<text transform="translate(599.4 290.45) scale(0.88 1)" text-anchor="end" class="t">0.08</text>
<text transform="translate(599.4 255.25) scale(0.88 1)" text-anchor="end" class="t">0.10</text>
<text transform="translate(754.52 273.3) scale(0.915 1)" text-anchor="middle" class="t">39 GeV</text>
<text transform="translate(692.2 467.4) scale(.96 1)" text-anchor="middle" class="a"><tspan class="i">ρ</tspan> (fm)</text>
<g transform="translate(564.5 340.7) rotate(-90)" text-anchor="middle"><text x="-55" y="0" class="a">|</text><text transform="translate(-47 0) scale(1 .87)" class="a i">ψ</text><text x="-35.9" y="0" class="a">(</text><text x="-27.4" y="0" class="a i">ρ</text><text x="-18.4" y="0" class="a">)</text><text x="-9.5" y="0" class="a">|</text><text x="-0.6" y="-9.9" class="s">2</text><text x="11.2" y="0" class="a">(</text><text x="17" y="0" class="a">f</text><text x="27.4" y="0" class="a">m</text><text x="37.5" y="-9.9" class="s">−</text><text x="45.1" y="-9.9" class="s">9</text><text x="52.3" y="0" class="a">)</text></g></g>
</svg>
</body></html>
